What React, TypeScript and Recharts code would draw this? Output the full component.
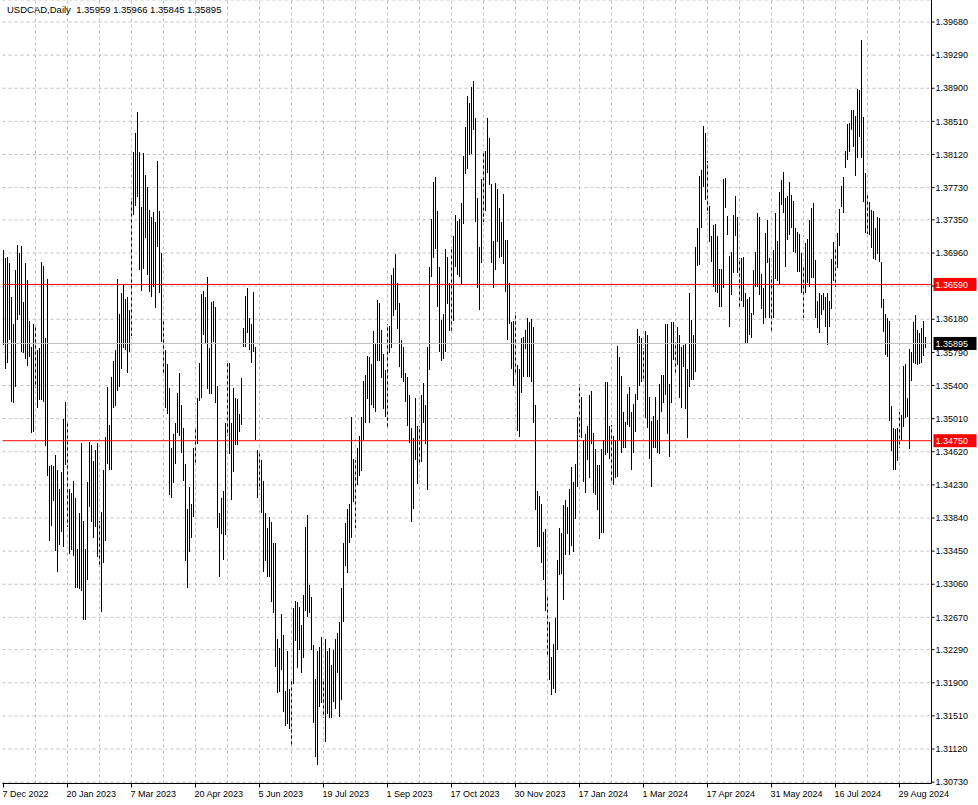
import {
  Bar,
  CartesianGrid,
  ComposedChart,
  ReferenceLine,
  XAxis,
  YAxis,
} from 'recharts';

const chartTitle = 'USDCAD,Daily  1.35959 1.35966 1.35845 1.35895';

const dateLabels = [
  '7 Dec 2022', '20 Jan 2023', '7 Mar 2023', '20 Apr 2023', '5 Jun 2023',
  '19 Jul 2023', '1 Sep 2023', '17 Oct 2023', '30 Nov 2023', '17 Jan 2024',
  '1 Mar 2024', '17 Apr 2024', '31 May 2024', '16 Jul 2024', '29 Aug 2024',
];

const priceTicks = [
  1.3968, 1.3929, 1.389, 1.3851, 1.3812, 1.3773, 1.3735, 1.3696, 1.3657, 1.3618,
  1.3579, 1.354, 1.3501, 1.3462, 1.3423, 1.3384, 1.3345, 1.3306, 1.3267, 1.3229,
  1.319, 1.3151, 1.3112, 1.3073,
];

const levelLines = [1.3659, 1.3475];
const lastPrice = 1.35895;

// daily highs, one per bar, oldest first
const barHighs = [
  1.3699, 1.3690, 1.3691, 1.3684, 1.3644, 1.3613, 1.3676, 1.3705, 1.3696, 1.3704,
  1.3638, 1.3684, 1.3664, 1.3616, 1.3585, 1.3612, 1.3609, 1.3582, 1.3584, 1.3685,
  1.3681, 1.3596, 1.3665, 1.3445, 1.3446, 1.3445, 1.3458, 1.3440, 1.3418, 1.3438,
  1.3500, 1.3520, 1.3498, 1.3418, 1.3414, 1.3428, 1.3408, 1.3347, 1.3390, 1.3472,
  1.3380, 1.3347, 1.3426, 1.3474, 1.3470, 1.3451, 1.3464, 1.3472, 1.3380, 1.3391,
  1.3441, 1.3479, 1.3538, 1.3494, 1.3550, 1.3569, 1.3582, 1.3665, 1.3624, 1.3649,
  1.3658, 1.3642, 1.3644, 1.3629, 1.3761, 1.3815, 1.3837, 1.3862, 1.3815, 1.3750,
  1.3814, 1.3788, 1.3774, 1.3747, 1.3738, 1.3744, 1.3732, 1.3804, 1.3745, 1.3696,
  1.3617, 1.3582, 1.3565, 1.3537, 1.3467, 1.3483, 1.3496, 1.3531, 1.3555, 1.3517,
  1.3490, 1.3448, 1.3395, 1.3420, 1.3400, 1.3467, 1.3490, 1.3525, 1.3567, 1.3648,
  1.3651, 1.3644, 1.3668, 1.3584, 1.3638, 1.3639, 1.3632, 1.3539, 1.3390, 1.3407,
  1.3416, 1.3496, 1.3566, 1.3567, 1.3496, 1.3537, 1.3525, 1.3524, 1.3507, 1.3549,
  1.3608, 1.3645, 1.3655, 1.3620, 1.3613, 1.3650, 1.3585, 1.3464, 1.3463, 1.3452,
  1.3427, 1.3390, 1.3372, 1.3385, 1.3379, 1.3354, 1.3355, 1.3241, 1.3231, 1.3271,
  1.3246, 1.3180, 1.3227, 1.3183, 1.3192, 1.3278, 1.3286, 1.3285, 1.3279, 1.3258,
  1.3293, 1.3373, 1.3387, 1.3305, 1.3291, 1.3234, 1.3195, 1.3227, 1.3232, 1.3244,
  1.3195, 1.3242, 1.3227, 1.3231, 1.3211, 1.3229, 1.3241, 1.3249, 1.3262, 1.3301,
  1.3354, 1.3378, 1.3395, 1.3401, 1.3503, 1.3454, 1.3452, 1.3466, 1.3481, 1.3503,
  1.3545, 1.3552, 1.3575, 1.3573, 1.3565, 1.3604, 1.3589, 1.3641, 1.3637, 1.3605,
  1.3577, 1.3558, 1.3613, 1.3610, 1.3670, 1.3678, 1.3695, 1.3661, 1.3637, 1.3593,
  1.3585, 1.3555, 1.3550, 1.3529, 1.3490, 1.3478, 1.3525, 1.3492, 1.3492, 1.3529,
  1.3543, 1.3517, 1.3585, 1.3679, 1.3736, 1.3780, 1.3785, 1.3745, 1.3679, 1.3617,
  1.3624, 1.3701, 1.3691, 1.3661, 1.3703, 1.3716, 1.3741, 1.3734, 1.3736, 1.3755,
  1.3810, 1.3844, 1.3881, 1.3873, 1.3891, 1.3899, 1.3855, 1.3761, 1.3703, 1.3783,
  1.3815, 1.3816, 1.3855, 1.3831, 1.3777, 1.3710, 1.3778, 1.3771, 1.3749, 1.3732,
  1.3765, 1.3711, 1.3711, 1.3661, 1.3615, 1.3616, 1.3626, 1.3564, 1.3560, 1.3596,
  1.3597, 1.3605, 1.3619, 1.3615, 1.3618, 1.3609, 1.3517, 1.3416, 1.3410, 1.3400,
  1.3368, 1.3371, 1.3293, 1.3262, 1.3220, 1.3236, 1.3266, 1.3334, 1.3372, 1.3366,
  1.3399, 1.3405, 1.3397, 1.3418, 1.3444, 1.3426, 1.3448, 1.3503, 1.3542, 1.3527,
  1.3476, 1.3483, 1.3492, 1.3529, 1.3534, 1.3484, 1.3465, 1.3446, 1.3446, 1.3465,
  1.3476, 1.3544, 1.3544, 1.3492, 1.3493, 1.3481, 1.3476, 1.3586, 1.3573, 1.3551,
  1.3509, 1.3497, 1.3530, 1.3538, 1.3509, 1.3518, 1.3530, 1.3606, 1.3598, 1.3596,
  1.3584, 1.3604, 1.3600, 1.3526, 1.3498, 1.3504, 1.3526, 1.3499, 1.3542, 1.3552,
  1.3552, 1.3613, 1.3613, 1.3542, 1.3615, 1.3615, 1.3591, 1.3609, 1.3599, 1.3585,
  1.3588, 1.3589, 1.3560, 1.3649, 1.3617, 1.3599, 1.3703, 1.3725, 1.3787, 1.3794,
  1.3846, 1.3837, 1.3804, 1.3751, 1.3716, 1.3729, 1.3730, 1.3716, 1.3677, 1.3677,
  1.3783, 1.3784, 1.3739, 1.3692, 1.3697, 1.3741, 1.3763, 1.3738, 1.3690, 1.3690,
  1.3691, 1.3649, 1.3642, 1.3644, 1.3625, 1.3676, 1.3697, 1.3743, 1.3738, 1.3671,
  1.3655, 1.3719, 1.3735, 1.3690, 1.3669, 1.3699, 1.3743, 1.3710, 1.3768, 1.3782,
  1.3791, 1.3761, 1.3763, 1.3780, 1.3764, 1.3757, 1.3725, 1.3721, 1.3718, 1.3696,
  1.3682, 1.3708, 1.3712, 1.3735, 1.3749, 1.3755, 1.3688, 1.3639, 1.3649, 1.3646,
  1.3649, 1.3644, 1.3649, 1.3640, 1.3689, 1.3709, 1.3702, 1.3719, 1.3748, 1.3775,
  1.3785, 1.3816, 1.3848, 1.3849, 1.3864, 1.3864, 1.3857, 1.3889, 1.3888, 1.3947,
  1.3856, 1.3790, 1.3765, 1.3756, 1.3747, 1.3745, 1.3725, 1.3738, 1.3737, 1.3685,
  1.3642, 1.3624, 1.3619, 1.3616, 1.3516, 1.3490, 1.3489, 1.3490, 1.3509, 1.3505,
  1.3563, 1.3565, 1.3525, 1.3583, 1.3579, 1.3615, 1.3623, 1.3605, 1.3602, 1.3608,
  1.3616, 1.35966,
];

// daily lows, same order
const barLows = [
  1.3588, 1.3560, 1.3567, 1.3593, 1.3520, 1.3519, 1.3538, 1.3617, 1.3623, 1.3579,
  1.3578, 1.3571, 1.3563, 1.3573, 1.3484, 1.3485, 1.3537, 1.3514, 1.3523, 1.3523,
  1.3520, 1.3469, 1.3433, 1.3357, 1.3375, 1.3404, 1.3345, 1.3321, 1.3352, 1.3368,
  1.3350, 1.3446, 1.3373, 1.3342, 1.3346, 1.3339, 1.3302, 1.3301, 1.3300, 1.3298,
  1.3264, 1.3264, 1.3311, 1.3397, 1.3379, 1.3360, 1.3373, 1.3338, 1.3326, 1.3273,
  1.3331, 1.3357, 1.3447, 1.3441, 1.3441, 1.3514, 1.3516, 1.3533, 1.3538, 1.3560,
  1.3584, 1.3582, 1.3555, 1.3579, 1.3598, 1.3741, 1.3751, 1.3762, 1.3676, 1.3651,
  1.3677, 1.3714, 1.3670, 1.3650, 1.3644, 1.3656, 1.3631, 1.3703, 1.3649, 1.3591,
  1.3555, 1.3514, 1.3507, 1.3411, 1.3407, 1.3425, 1.3447, 1.3484, 1.3481, 1.3460,
  1.3428, 1.3333, 1.3301, 1.3344, 1.3360, 1.3385, 1.3448, 1.3471, 1.3522, 1.3525,
  1.3599, 1.3589, 1.3536, 1.3530, 1.3530, 1.3591, 1.3519, 1.3372, 1.3314, 1.3365,
  1.3335, 1.3364, 1.3480, 1.3459, 1.3405, 1.3438, 1.3470, 1.3470, 1.3485, 1.3493,
  1.3585, 1.3585, 1.3602, 1.3582, 1.3567, 1.3579, 1.3476, 1.3407, 1.3417, 1.3390,
  1.3320, 1.3333, 1.3314, 1.3314, 1.3285, 1.3272, 1.3209, 1.3178, 1.3179, 1.3205,
  1.3156, 1.3139, 1.3142, 1.3135, 1.3116, 1.3189, 1.3239, 1.3207, 1.3229, 1.3202,
  1.3219, 1.3274, 1.3267, 1.3272, 1.3228, 1.3143, 1.3103, 1.3093, 1.3161, 1.3166,
  1.3149, 1.3120, 1.3153, 1.3149, 1.3148, 1.3167, 1.3159, 1.3201, 1.3150, 1.3170,
  1.3262, 1.3328, 1.3319, 1.3355, 1.3361, 1.3403, 1.3372, 1.3423, 1.3433, 1.3439,
  1.3476, 1.3496, 1.3524, 1.3496, 1.3517, 1.3514, 1.3509, 1.3569, 1.3569, 1.3549,
  1.3512, 1.3503, 1.3489, 1.3578, 1.3584, 1.3622, 1.3629, 1.3606, 1.3562, 1.3549,
  1.3544, 1.3520, 1.3492, 1.3472, 1.3379, 1.3395, 1.3452, 1.3424, 1.3448, 1.3450,
  1.3496, 1.3471, 1.3417, 1.3558, 1.3668, 1.3690, 1.3701, 1.3632, 1.3580, 1.3569,
  1.3571, 1.3579, 1.3636, 1.3604, 1.3603, 1.3616, 1.3679, 1.3670, 1.3668, 1.3659,
  1.3730, 1.3789, 1.3795, 1.3811, 1.3813, 1.3841, 1.3732, 1.3655, 1.3629, 1.3684,
  1.3732, 1.3745, 1.3790, 1.3776, 1.3684, 1.3655, 1.3676, 1.3709, 1.3690, 1.3691,
  1.3683, 1.3650, 1.3593, 1.3612, 1.3560, 1.3540, 1.3552, 1.3486, 1.3479, 1.3531,
  1.3550, 1.3583, 1.3550, 1.3550, 1.3544, 1.3496, 1.3393, 1.3350, 1.3350, 1.3331,
  1.3311, 1.3275, 1.3220, 1.3193, 1.3176, 1.3183, 1.3178, 1.3229, 1.3317, 1.3318,
  1.3288, 1.3341, 1.3365, 1.3340, 1.3351, 1.3344, 1.3383, 1.3420, 1.3479, 1.3478,
  1.3426, 1.3414, 1.3452, 1.3431, 1.3471, 1.3413, 1.3411, 1.3394, 1.3359, 1.3366,
  1.3366, 1.3458, 1.3461, 1.3454, 1.3425, 1.3423, 1.3431, 1.3432, 1.3476, 1.3461,
  1.3467, 1.3467, 1.3493, 1.3491, 1.3441, 1.3461, 1.3485, 1.3523, 1.3540, 1.3544,
  1.3545, 1.3502, 1.3490, 1.3454, 1.3420, 1.3466, 1.3466, 1.3460, 1.3459, 1.3509,
  1.3519, 1.3529, 1.3483, 1.3456, 1.3519, 1.3570, 1.3555, 1.3564, 1.3525, 1.3514,
  1.3562, 1.3512, 1.3478, 1.3538, 1.3546, 1.3547, 1.3556, 1.3681, 1.3682, 1.3725,
  1.3774, 1.3758, 1.3742, 1.3709, 1.3685, 1.3656, 1.3650, 1.3649, 1.3632, 1.3632,
  1.3655, 1.3749, 1.3717, 1.3609, 1.3646, 1.3672, 1.3716, 1.3672, 1.3631, 1.3639,
  1.3632, 1.3590, 1.3590, 1.3600, 1.3596, 1.3623, 1.3656, 1.3656, 1.3646, 1.3630,
  1.3613, 1.3620, 1.3684, 1.3619, 1.3602, 1.3620, 1.3665, 1.3663, 1.3658, 1.3752,
  1.3743, 1.3679, 1.3711, 1.3717, 1.3726, 1.3697, 1.3696, 1.3674, 1.3674, 1.3649,
  1.3619, 1.3649, 1.3661, 1.3656, 1.3666, 1.3666, 1.3619, 1.3608, 1.3602, 1.3623,
  1.3629, 1.3609, 1.3588, 1.3609, 1.3630, 1.3663, 1.3656, 1.3678, 1.3704, 1.3750,
  1.3743, 1.3796, 1.3805, 1.3815, 1.3841, 1.3821, 1.3787, 1.3808, 1.3833, 1.3808,
  1.3756, 1.3719, 1.3718, 1.3717, 1.3702, 1.3689, 1.3688, 1.3695, 1.3685, 1.3631,
  1.3603, 1.3576, 1.3573, 1.3498, 1.3463, 1.3441, 1.3440, 1.3451, 1.3466, 1.3476,
  1.3491, 1.3502, 1.3503, 1.3465, 1.3545, 1.3566, 1.3565, 1.3564, 1.3565, 1.3566,
  1.3575, 1.35845,
];

const FONT = "'Liberation Sans', Arial, sans-serif";
const GRID = '#c0c0c0';
const LABEL_EVERY = 32;
const GRID_EVERY = 16;

const data = barHighs.map((high, idx) => ({ idx, range: [barLows[idx], high] }));
const gridBars = data.filter((d) => d.idx > 0 && d.idx % GRID_EVERY === 0).map((d) => d.idx);

// price labels that sit under a price tag are covered by it in the terminal
const tagPrices = [...levelLines, lastPrice];
const isCovered = (v: number) => tagPrices.some((p) => Math.abs(p - v) < 0.0005);

function HighLowStroke(props: any) {
  const { x, y, width, height } = props;
  if (x == null || y == null) return null;
  const cx = Math.floor(x + width / 2) + 0.5;
  return (
    <line
      x1={cx}
      x2={cx}
      y1={y}
      y2={y + height}
      stroke="#000"
      strokeWidth={1}
      shapeRendering="crispEdges"
    />
  );
}

function DateTick({ x, y, payload }: any) {
  const label = dateLabels[payload.value / LABEL_EVERY];
  if (!label) return null;
  return (
    <text x={x - 1} y={y + 7} fontSize={9} fontFamily={FONT} fill="#000" textAnchor="start">
      {label}
    </text>
  );
}

function PriceTick({ x, y, payload }: any) {
  if (isCovered(Number(payload.value))) return null;
  return (
    <text x={x} y={y} dy={3.2} fontSize={9} fontFamily={FONT} fill="#000" textAnchor="start">
      {Number(payload.value).toFixed(5)}
    </text>
  );
}

function PriceTag({ viewBox, text, fill }: any) {
  if (!viewBox) return null;
  const left = viewBox.x + viewBox.width + 2;
  const y = viewBox.y;
  return (
    <g>
      <rect x={left} y={y - 6.5} width={43} height={13} fill={fill} />
      <text x={left + 2} y={y} dy={3.2} fontSize={9} fontFamily={FONT} fill="#fff">
        {text}
      </text>
    </g>
  );
}

export default function App() {
  const domain: [number, number] = [1.30714, 1.39939];

  return (
    <div style={{ position: 'absolute', left: 0, top: 0, width: 978, height: 805, background: '#fff' }}>
      <ComposedChart
        width={978}
        height={805}
        data={data}
        margin={{ top: 0, right: 2.5, bottom: 0, left: 2.5 }}
        barCategoryGap={0}
      >
        <CartesianGrid
          yAxisId="price"
          vertical={false}
          stroke={GRID}
          strokeDasharray="3 3"
        />
        <XAxis
          dataKey="idx"
          type="category"
          interval={LABEL_EVERY - 1}
          height={21.5}
          padding={{ left: 0, right: 5 }}
          axisLine={{ stroke: '#000' }}
          tickLine={{ stroke: '#000' }}
          tickSize={4}
          tickMargin={2}
          tick={<DateTick />}
        />
        <YAxis
          yAxisId="frame"
          orientation="left"
          type="number"
          domain={domain}
          width={0}
          tick={false}
          tickLine={false}
          axisLine={{ stroke: '#000' }}
        />
        <YAxis
          yAxisId="price"
          orientation="right"
          type="number"
          domain={domain}
          allowDataOverflow
          ticks={priceTicks}
          interval={0}
          width={44}
          axisLine={{ stroke: '#000' }}
          tickLine={{ stroke: '#000' }}
          tickSize={3}
          tickMargin={1}
          tick={<PriceTick />}
        />
        {gridBars.map((b) => (
          <ReferenceLine
            key={`g${b}`}
            yAxisId="price"
            x={b}
            stroke={GRID}
            strokeDasharray="3 3"
          />
        ))}
        <ReferenceLine
          yAxisId="price"
          y={lastPrice}
          stroke="#c0c0c0"
          label={<PriceTag text={lastPrice.toFixed(5)} fill="#000" />}
        />
        <Bar
          yAxisId="price"
          dataKey="range"
          isAnimationActive={false}
          shape={(p: any) => <HighLowStroke {...p} />}
        />
        {levelLines.map((lv) => (
          <ReferenceLine
            key={`l${lv}`}
            yAxisId="price"
            y={lv}
            stroke="#ff0000"
            label={<PriceTag text={lv.toFixed(5)} fill="#ff0000" />}
          />
        ))}
      </ComposedChart>
      <div
        style={{
          position: 'absolute',
          left: 7,
          top: 4,
          fontFamily: FONT,
          fontSize: 9.5,
          color: '#000',
          whiteSpace: 'pre',
          lineHeight: '12px',
        }}
      >
        {chartTitle}
      </div>
    </div>
  );
}
